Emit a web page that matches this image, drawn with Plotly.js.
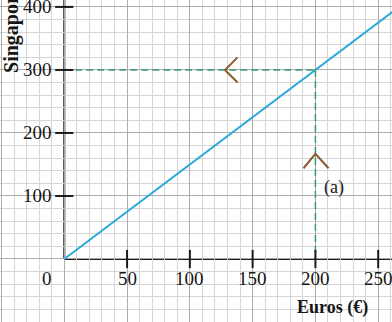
<!DOCTYPE html>
<html>
<head>
<meta charset="utf-8">
<script src="https://cdn.plot.ly/plotly-3.0.1.min.js"></script>
<style>html,body{margin:0;padding:0;background:#fff;}#chart{width:392px;height:322px;}</style>
</head>
<body>
<div id="chart"></div>
<script>
// Data
const euros = [0, 200, 270];
const sgd = [0, 300, 405];
const readX = [0, 200, 200];          // dashed read-off path (x)
const readY = [300, 300, 0];          // dashed read-off path (y)
const arrowLeftX = [138, 128, 138];
const arrowLeftY = [320, 300, 280];
const arrowUpX = [190.5, 200, 210.5];
const arrowUpY = [144, 167, 144];
const xTickVals = [50, 100, 150, 200, 250];
const yTickVals = [100, 200, 300, 400];
const xTitle = 'Euros (€)';
const yTitle = 'Singapore dollars (S$)';
const noteText = '(a)';
const noteX = 215, noteY = 114;

const xRange = [-51.2, 261];
const yRange = [-100, 411];
const FONT = '"Liberation Serif", "Times New Roman", serif';
const TXT = '#161616';

const traces = [
  {x: euros, y: sgd, mode: 'lines', line: {color: '#2aa9d8', width: 2}, hoverinfo: 'skip'},
  {x: [readX[0], readX[1]], y: [readY[0], readY[1]], mode: 'lines', line: {color: '#3a9b6c', width: 1.5, dash: '7px,4px'}, hoverinfo: 'skip'},
  {x: [readX[1], readX[2]], y: [readY[1], readY[2]], mode: 'lines', line: {color: '#3a9b6c', width: 1.5, dash: '7px,4px'}, hoverinfo: 'skip'},
  {x: arrowLeftX, y: arrowLeftY, mode: 'lines', line: {color: '#8d5a2c', width: 2}, hoverinfo: 'skip'},
  {x: arrowUpX, y: arrowUpY, mode: 'lines', line: {color: '#8d5a2c', width: 2}, hoverinfo: 'skip'},
  {x: xTickVals, y: xTickVals.map(() => 0), mode: 'markers', marker: {symbol: 'line-ns', size: 13, line: {color: '#1a1a1a', width: 2}}, hoverinfo: 'skip'},
  {x: yTickVals.map(() => 0), y: yTickVals, mode: 'markers', marker: {symbol: 'line-ew', size: 13, line: {color: '#1a1a1a', width: 2}}, hoverinfo: 'skip'}
];

const annotations = [];
xTickVals.forEach(v => annotations.push({x: v, y: -31, xref: 'x', yref: 'y', text: String(v), showarrow: false, xanchor: 'center', yanchor: 'middle', font: {family: FONT, size: 19, color: TXT}}));
yTickVals.forEach(v => annotations.push({x: -8.5, y: v, xref: 'x', yref: 'y', text: String(v), showarrow: false, xanchor: 'right', yanchor: 'middle', font: {family: FONT, size: 19, color: TXT}}));
annotations.push({x: -8.5, y: -31, xref: 'x', yref: 'y', text: '0', showarrow: false, xanchor: 'right', yanchor: 'middle', font: {family: FONT, size: 19, color: TXT}});
annotations.push({x: noteX, y: noteY, xref: 'x', yref: 'y', text: noteText, showarrow: false, xanchor: 'center', yanchor: 'middle', font: {family: FONT, size: 18, color: TXT}});
annotations.push({x: 295/392, y: 1 - 307/322, xref: 'paper', yref: 'paper', text: '<b>' + xTitle + '</b>', showarrow: false, xanchor: 'left', yanchor: 'middle', font: {family: FONT, size: 18, color: TXT}});
annotations.push({x: 12/392, y: 292, xref: 'paper', yref: 'y', text: '<b>' + yTitle + '</b>', textangle: -90, showarrow: false, xanchor: 'center', yanchor: 'bottom', font: {family: FONT, size: 20, color: TXT}});

const layout = {
  width: 392, height: 322,
  margin: {l: 0, r: 0, t: 0, b: 0, pad: 0},
  paper_bgcolor: '#fff', plot_bgcolor: '#fff',
  showlegend: false,
  xaxis: {range: xRange, tick0: 0, dtick: 50, showgrid: true, gridcolor: '#acacac', gridwidth: 1,
          minor: {tick0: 0, dtick: 10, showgrid: true, gridcolor: '#d6d6d6', gridwidth: 1},
          zeroline: false, showticklabels: false, ticks: '', showline: false, fixedrange: true},
  yaxis: {range: yRange, tick0: 0, dtick: 100, showgrid: true, gridcolor: '#acacac', gridwidth: 1,
          minor: {tick0: 0, dtick: 20, showgrid: true, gridcolor: '#d6d6d6', gridwidth: 1},
          zeroline: false, showticklabels: false, ticks: '', showline: false, fixedrange: true},
  shapes: [
    {type: 'line', xref: 'x', yref: 'y', x0: 0, x1: xRange[1], y0: 0, y1: 0, line: {color: '#1a1a1a', width: 2}, layer: 'below'},
    {type: 'line', xref: 'x', yref: 'y', x0: 0, x1: 0, y0: 0, y1: yRange[1], line: {color: '#1a1a1a', width: 2}, layer: 'below'}
  ],
  annotations: annotations
};

Plotly.newPlot('chart', traces, layout, {staticPlot: true, displayModeBar: false});
</script>
</body>
</html>
